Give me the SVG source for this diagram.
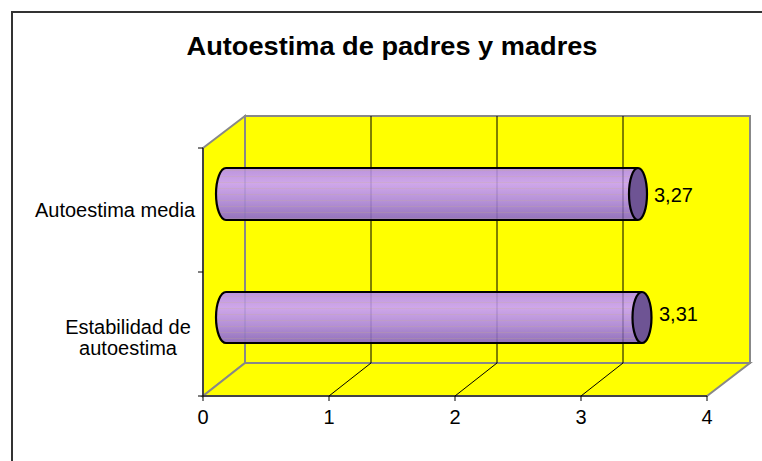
<svg xmlns="http://www.w3.org/2000/svg" width="762" height="461" viewBox="0 0 762 461">
<defs>
<linearGradient id="cyl" x1="0" y1="0" x2="0" y2="1">
<stop offset="0" stop-color="#b88ee8"/>
<stop offset="0.3" stop-color="#cca2f6"/>
<stop offset="0.65" stop-color="#b08ae2"/>
<stop offset="1" stop-color="#8c6ac4"/>
</linearGradient>
<pattern id="stripes" width="10" height="6" patternUnits="userSpaceOnUse">
<rect width="10" height="1" y="2" fill="#c8b080" fill-opacity="0.22"/>
</pattern>
</defs>
<style>
text{font-family:"Liberation Sans",Arial,sans-serif;fill:#000}
.wall{fill:#ffff00;stroke:#888;stroke-width:2}
.grid{stroke:#000;stroke-width:1;fill:none}
.axis{stroke:#000;stroke-width:1;fill:none}
.body{fill:url(#cyl);stroke:none}
.edge{fill:none;stroke:#000;stroke-width:2.2}
.cap{fill:#6e5494;stroke:#000;stroke-width:2.2}
.lbl{font-size:20px}
</style>
<rect width="762" height="461" fill="#fff"/>
<rect x="12" y="12" width="760" height="460" fill="#fff" stroke="#333" stroke-width="2"/>
<text x="392" y="55" font-size="26" font-weight="bold" text-anchor="middle" textLength="411" lengthAdjust="spacingAndGlyphs">Autoestima de padres y madres</text>

<g id="plot">
<polygon class="wall" points="203,148 245,116 245,363 203,396"/>
<polygon class="wall" points="203,396 245,363 750,363 707,396"/>
<rect class="wall" x="245" y="116" width="505" height="247"/>
</g>

<g id="gridlines">
<line class="grid" x1="371" y1="116" x2="371" y2="363"/>
<line class="grid" x1="497" y1="116" x2="497" y2="363"/>
<line class="grid" x1="623" y1="116" x2="623" y2="363"/>
<line class="grid" x1="371" y1="363" x2="329" y2="396"/>
<line class="grid" x1="497" y1="363" x2="455" y2="396"/>
<line class="grid" x1="623" y1="363" x2="581" y2="396"/>
</g>

<g id="axes">
<line class="axis" x1="203" y1="148" x2="203" y2="396"/>
<line class="axis" x1="203" y1="396" x2="707" y2="396" stroke="#444"/>
<path class="axis" d="M198,148H203M198,272H203M198,396H203"/>
<path class="axis" d="M203,396V401M329,396V401M455,396V401M581,396V401M707,396V401"/>
<text class="lbl" x="203" y="424" text-anchor="middle">0</text>
<text class="lbl" x="329" y="424" text-anchor="middle">1</text>
<text class="lbl" x="455" y="424" text-anchor="middle">2</text>
<text class="lbl" x="581" y="424" text-anchor="middle">3</text>
<text class="lbl" x="707" y="424" text-anchor="middle">4</text>
<text class="lbl" x="195" y="217" text-anchor="end">Autoestima media</text>
<text class="lbl" x="128" y="334" text-anchor="middle">Estabilidad de</text>
<text class="lbl" x="128" y="355" text-anchor="middle">autoestima</text>
</g>

<g id="bar-media">
<path class="body" d="M226,168 H638 V220 H226 A10,26 0 0 1 226,168 Z" fill-opacity="0.95"/>
<path d="M226,168 H638 V220 H226 A10,26 0 0 1 226,168 Z" fill="url(#stripes)"/>
<line x1="245" y1="168" x2="245" y2="220" stroke="#888" stroke-opacity="0.35"/>
<line x1="371" y1="168" x2="371" y2="220" stroke="#000" stroke-opacity="0.12"/>
<line x1="497" y1="168" x2="497" y2="220" stroke="#000" stroke-opacity="0.12"/>
<line x1="623" y1="168" x2="623" y2="220" stroke="#000" stroke-opacity="0.3"/>
<path class="edge" d="M638,168 H226 A10,26 0 0 0 226,220 H638"/>
<ellipse class="cap" cx="638" cy="194" rx="9" ry="26"/>
<text class="lbl" x="654" y="202">3,27</text>
</g>

<g id="bar-estabilidad">
<path class="body" d="M226,292 H642 V343 H226 A10,25.5 0 0 1 226,292 Z" fill-opacity="0.95"/>
<path d="M226,292 H642 V343 H226 A10,25.5 0 0 1 226,292 Z" fill="url(#stripes)"/>
<line x1="245" y1="292" x2="245" y2="343" stroke="#888" stroke-opacity="0.35"/>
<line x1="371" y1="292" x2="371" y2="343" stroke="#000" stroke-opacity="0.12"/>
<line x1="497" y1="292" x2="497" y2="343" stroke="#000" stroke-opacity="0.12"/>
<line x1="623" y1="292" x2="623" y2="343" stroke="#000" stroke-opacity="0.3"/>
<path class="edge" d="M642,292 H226 A10,25.5 0 0 0 226,343 H642"/>
<ellipse class="cap" cx="642" cy="317.5" rx="9.5" ry="25.5"/>
<text class="lbl" x="659" y="321">3,31</text>
</g>
</svg>
